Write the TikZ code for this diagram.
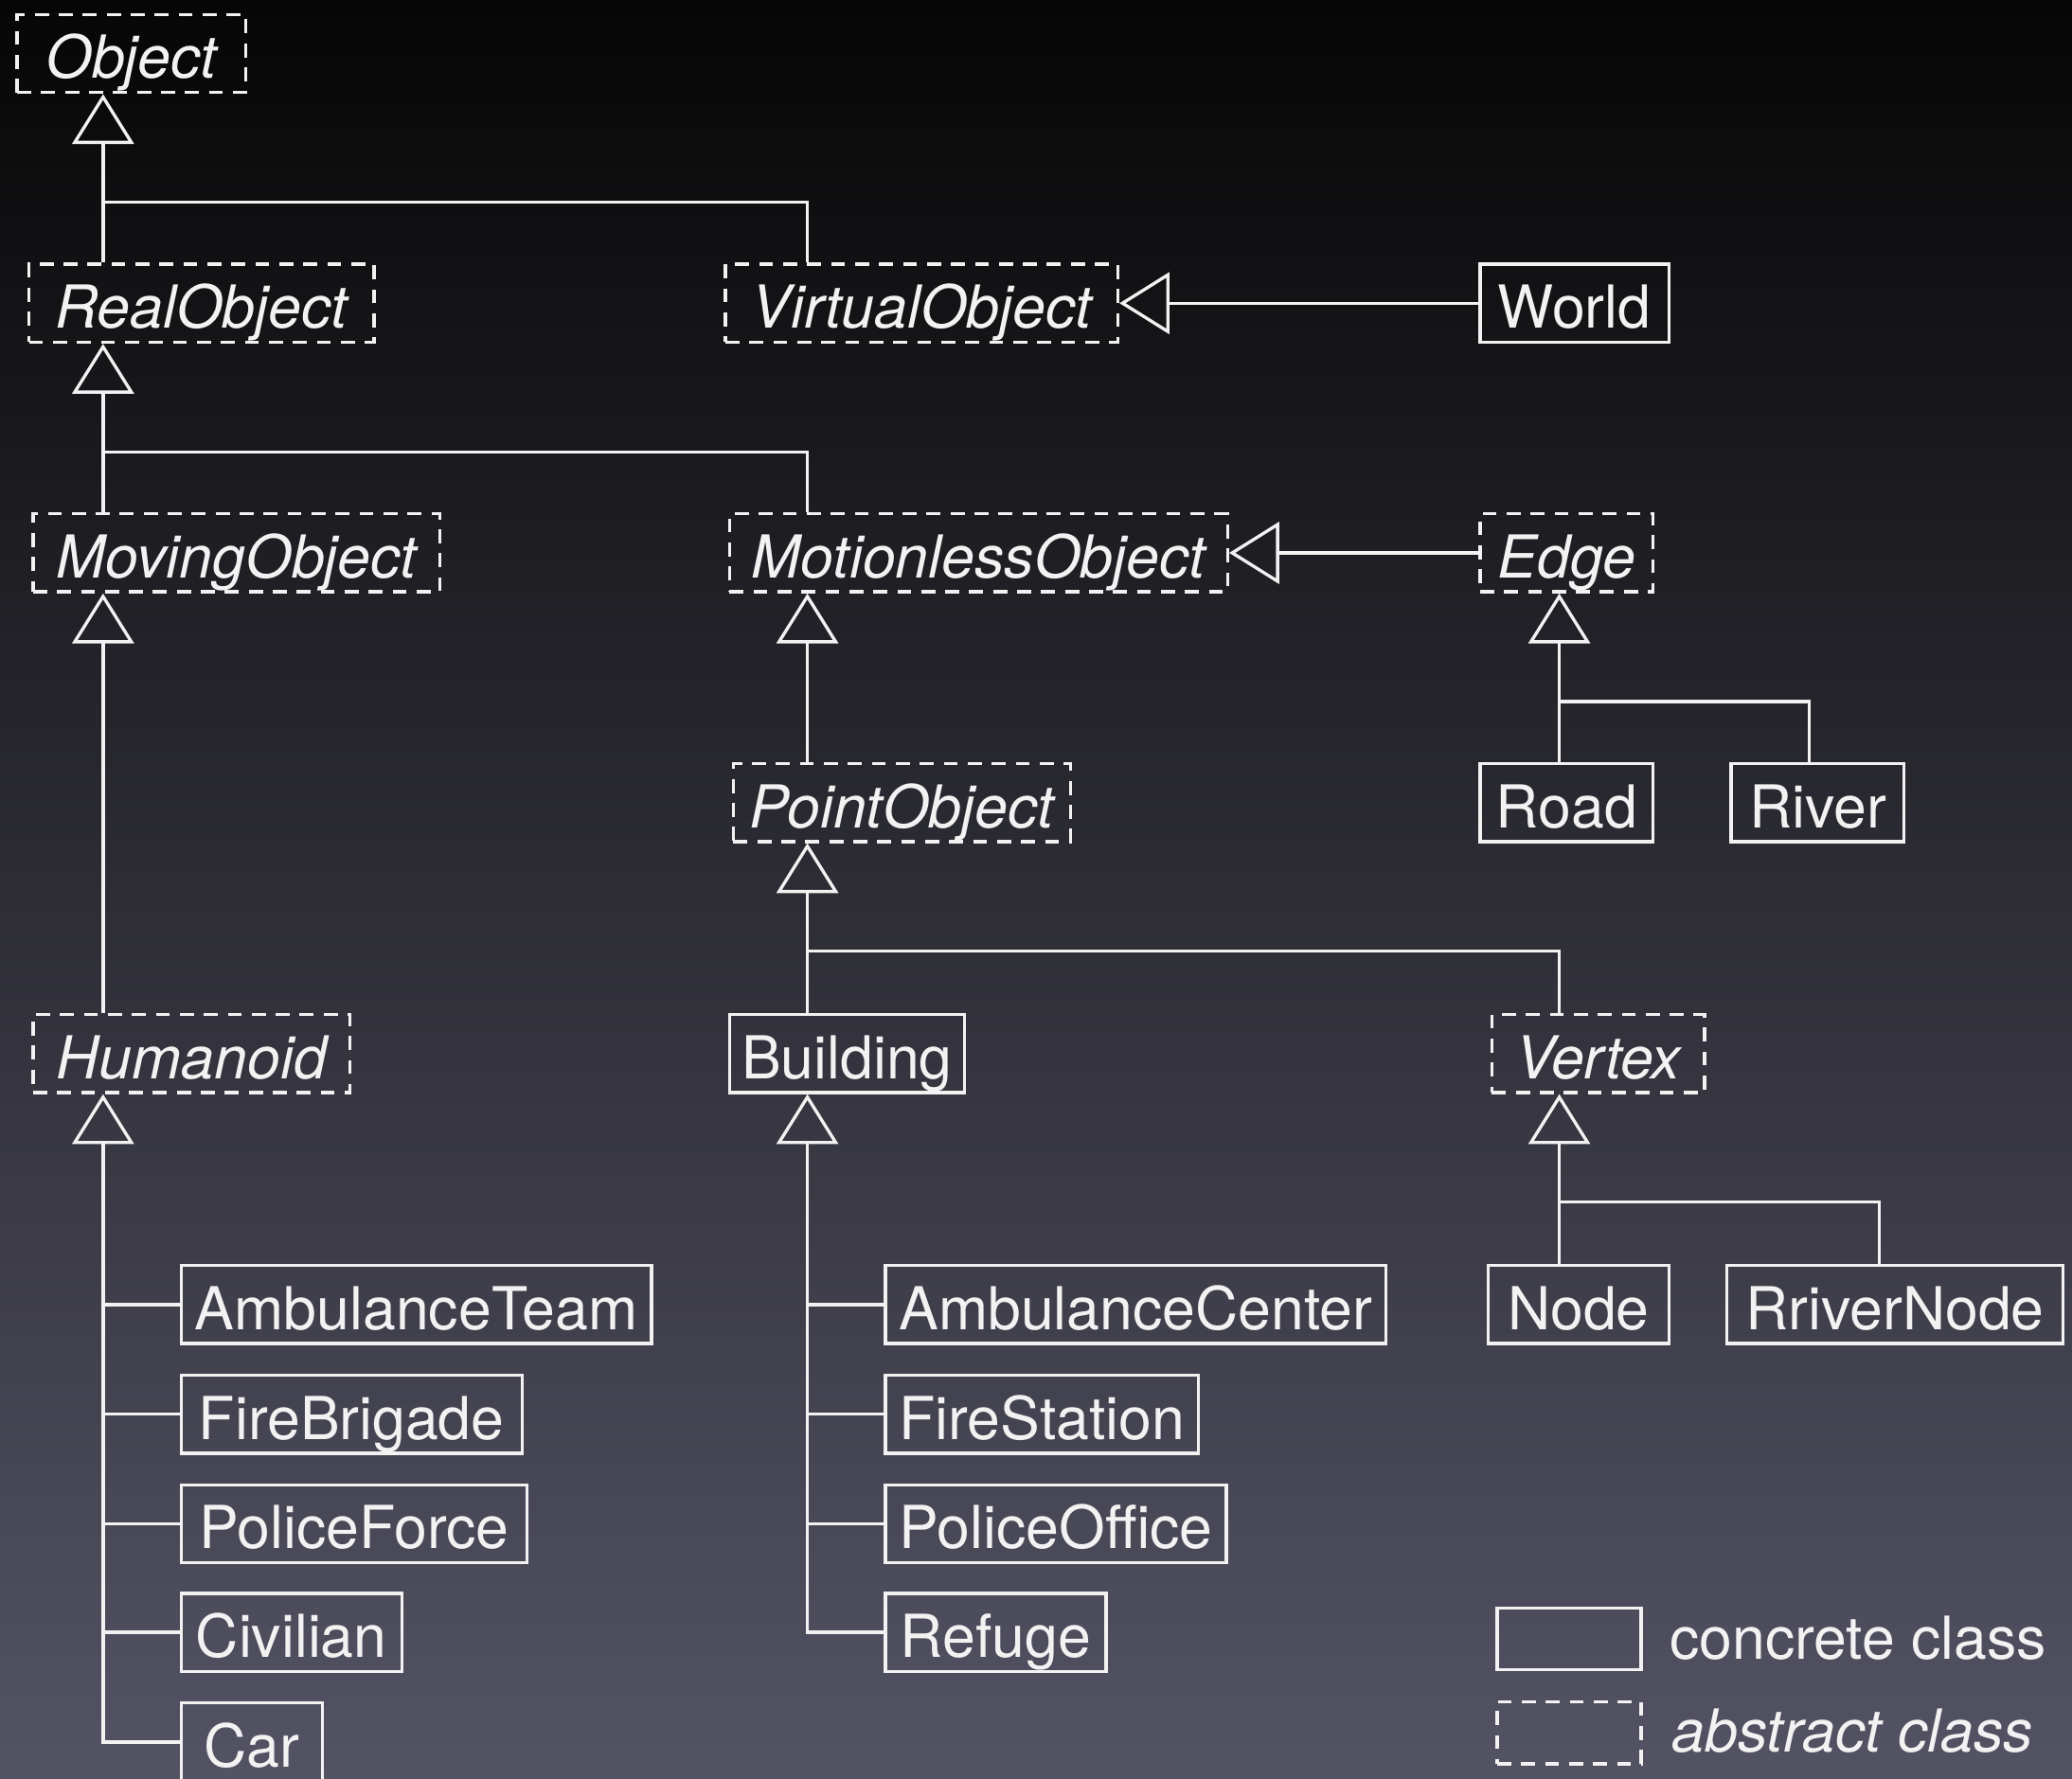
\documentclass[tikz,border=0pt]{standalone}
\usepackage{fontspec}
\setmainfont{TeX Gyre Heros}
\usetikzlibrary{arrows.meta}
\newcommand{\px}{0.013954cm}
\definecolor{bgtop}{RGB}{6,6,6}
\definecolor{bgmid}{RGB}{36,36,43}
\definecolor{bgbot}{RGB}{84,83,100}
\definecolor{ink}{RGB}{242,242,242}
\begin{document}
\begin{tikzpicture}[x=0.013954cm, y=-0.013954cm,
  txt/.style={font=\fontsize{17.8}{21}\selectfont, text=ink},
  cls/.style={txt, draw=ink, line width=0.95pt, inner sep=0pt, minimum height=59*\px, text height=15pt, text depth=0pt},
  conc/.style={cls},
  abst/.style={cls, dash pattern=on 4.2pt off 3pt, font=\fontsize{17.8}{21}\selectfont\itshape},
  conn/.style={draw=ink, line width=0.95pt},
  gen/.style={conn, -{Triangle[open, length=15pt, width=18.5pt]}}
]
\useasboundingbox (0,0) rectangle (1568,1346);
\clip (0,0) rectangle (1568,1346);
\shade[top color=bgtop, middle color=bgmid, bottom color=bgbot] (0,0) rectangle (1568,1346);

% trunk x positions and junctions
\coordinate (tL) at (78,0);
\coordinate (tM) at (611,0);
\coordinate (tR) at (1180,0);
\coordinate (tRiv) at (1369,0);
\coordinate (tRN) at (1422,0);
\coordinate (jO) at (78,153);
\coordinate (jR) at (78,342);
\coordinate (jE) at (1180,531);
\coordinate (jP) at (611,720);
\coordinate (jV) at (1180,910);

% classes
\node[abst, minimum width=173*\px] (Object) at (99.5,40.5) {Object};
\node[abst, minimum width=261*\px] (RealObject) at (152.5,229.5) {RealObject};
\node[abst, minimum width=297*\px] (VirtualObject) at (697.5,229.5) {VirtualObject};
\node[conc, minimum width=143*\px] (World) at (1191.5,229.5) {World};
\node[abst, minimum width=308*\px] (MovingObject) at (179,418.5) {MovingObject};
\node[abst, minimum width=377*\px] (MotionlessObject) at (740.5,418.5) {MotionlessObject};
\node[abst, minimum width=131*\px] (Edge) at (1185.5,418.5) {Edge};
\node[abst, minimum width=255*\px] (PointObject) at (682.5,607.5) {PointObject};
\node[conc, minimum width=131*\px] (Road) at (1185.5,607.5) {Road};
\node[conc, minimum width=131*\px] (River) at (1375.5,607.5) {River};
\node[abst, minimum width=240*\px] (Humanoid) at (145,797.5) {Humanoid};
\node[conc, minimum width=178*\px] (Building) at (641,797.5) {Building};
\node[abst, minimum width=161*\px] (Vertex) at (1209.5,797.5) {Vertex};
\node[conc, minimum width=356*\px] (AmbulanceTeam) at (315,987.5) {AmbulanceTeam};
\node[conc, minimum width=258*\px] (FireBrigade) at (266,1070.5) {FireBrigade};
\node[conc, minimum width=262*\px] (PoliceForce) at (268,1153.5) {PoliceForce};
\node[conc, minimum width=167*\px] (Civilian) at (220.5,1235.5) {Civilian};
\node[conc, minimum width=107*\px] (Car) at (190.5,1318.5) {Car};
\node[conc, minimum width=379*\px] (AmbulanceCenter) at (859.5,987.5) {AmbulanceCenter};
\node[conc, minimum width=237*\px] (FireStation) at (788.5,1070.5) {FireStation};
\node[conc, minimum width=258*\px] (PoliceOffice) at (799,1153.5) {PoliceOffice};
\node[conc, minimum width=167*\px] (Refuge) at (753.5,1235.5) {Refuge};
\node[conc, minimum width=137*\px] (Node) at (1194.5,987.5) {Node};
\node[conc, minimum width=254*\px] (RriverNode) at (1434,987.5) {RriverNode};

% legend
\node[conc, minimum width=109*\px, minimum height=47*\px] (legC) at (1187.5,1240.5) {};
\node[abst, minimum width=109*\px, minimum height=47*\px] (legA) at (1187.5,1311.5) {};
\node[txt, anchor=west, inner sep=0pt] (legCt) at (1263,1240) {concrete class};
\node[txt, anchor=west, inner sep=0pt, font=\fontsize{17.8}{21}\selectfont\itshape] (legAt) at (1265,1310) {abstract class};

% connectors
\draw[gen] (RealObject.north -| tL) -- (Object.south -| tL);
\draw[conn] (VirtualObject.north -| tM) |- (jO);
\draw[gen] (World.west) -- (VirtualObject.east);
\draw[gen] (MovingObject.north -| tL) -- (RealObject.south -| tL);
\draw[conn] (MotionlessObject.north -| tM) |- (jR);
\draw[gen] (Edge.west) -- (MotionlessObject.east);
\draw[gen] (Humanoid.north -| tL) -- (MovingObject.south -| tL);
\draw[gen] (PointObject.north -| tM) -- (MotionlessObject.south -| tM);
\draw[gen] (Road.north -| tR) -- (Edge.south -| tR);
\draw[conn] (River.north -| tRiv) |- (jE);
\draw[gen] (Building.north -| tM) -- (PointObject.south -| tM);
\draw[conn] (Vertex.north -| tR) |- (jP);
\draw[gen] (Car.west) -| (Humanoid.south -| tL);
\draw[conn] (AmbulanceTeam.west) -- (AmbulanceTeam.west -| tL);
\draw[conn] (FireBrigade.west) -- (FireBrigade.west -| tL);
\draw[conn] (PoliceForce.west) -- (PoliceForce.west -| tL);
\draw[conn] (Civilian.west) -- (Civilian.west -| tL);
\draw[gen] (Refuge.west) -| (Building.south -| tM);
\draw[conn] (AmbulanceCenter.west) -- (AmbulanceCenter.west -| tM);
\draw[conn] (FireStation.west) -- (FireStation.west -| tM);
\draw[conn] (PoliceOffice.west) -- (PoliceOffice.west -| tM);
\draw[gen] (Node.north -| tR) -- (Vertex.south -| tR);
\draw[conn] (RriverNode.north -| tRN) |- (jV);
\end{tikzpicture}
\end{document}
